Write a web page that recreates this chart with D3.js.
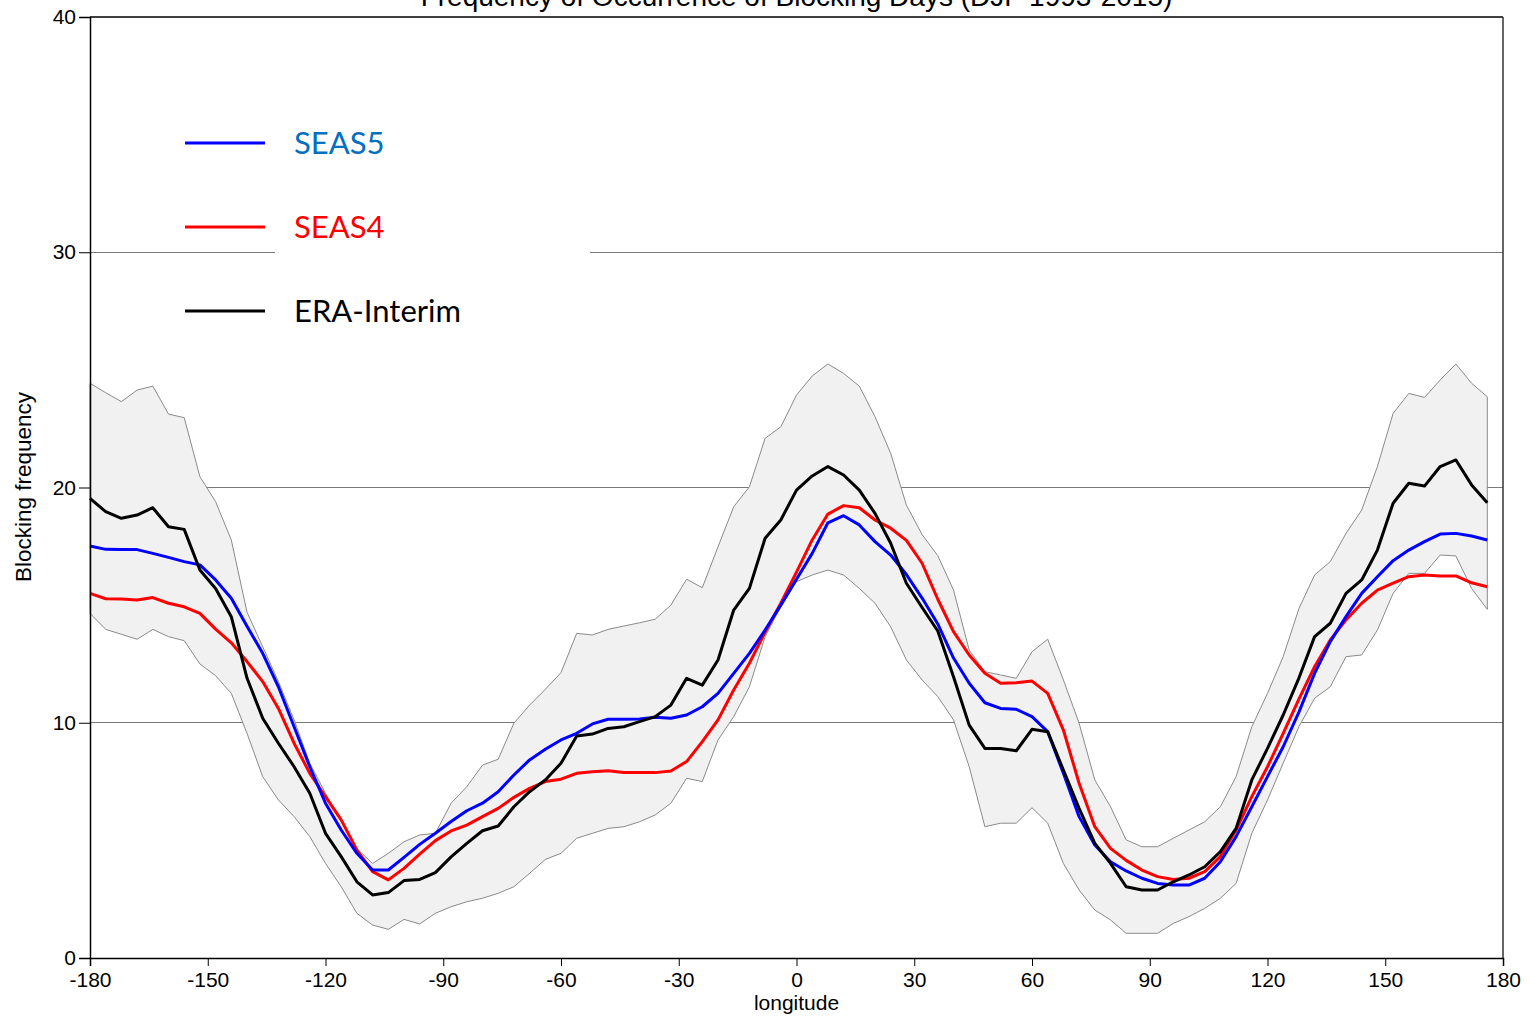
<!DOCTYPE html>
<html>
<head>
<meta charset="utf-8">
<script src="https://cdn.jsdelivr.net/npm/d3@7"></script>
<style>
  html, body { margin: 0; padding: 0; background: #ffffff; }
  svg { display: block; }
</style>
</head>
<body>
<svg id="chart" width="1529" height="1018"></svg>
<script>
// Longitudes of the blocking index, every 4 degrees from -180 to 176
const longitudes = d3.range(-180, 180, 4);

// ERA-Interim reanalysis
const eraInterim = [
  19.54, 18.97, 18.69, 18.83, 19.14, 18.33, 18.22, 16.49, 15.71, 14.51,
  11.90, 10.19, 9.13, 8.13, 7.00, 5.30, 4.31, 3.24, 2.68, 2.78,
  3.29, 3.34, 3.63, 4.30, 4.87, 5.41, 5.61, 6.43, 7.07, 7.57,
  8.28, 9.44, 9.52, 9.76, 9.83, 10.05, 10.26, 10.75, 11.89, 11.60,
  12.67, 14.79, 15.71, 17.84, 18.62, 19.89, 20.49, 20.89, 20.53, 19.89,
  18.90, 17.63, 15.93, 14.90, 13.90, 11.96, 9.90, 8.91, 8.91, 8.81,
  9.72, 9.62, 7.99, 6.36, 4.87, 4.02, 3.03, 2.89, 2.89, 3.24,
  3.53, 3.88, 4.52, 5.51, 7.57, 8.91, 10.33, 11.90, 13.66, 14.23,
  15.50, 16.07, 17.34, 19.33, 20.18, 20.06, 20.89, 21.17, 20.11, 19.35
];

// SEAS5 ensemble mean
const seas5 = [
  17.51, 17.37, 17.36, 17.36, 17.20, 17.03, 16.85, 16.71, 16.07, 15.29,
  14.10, 12.95, 11.53, 9.83, 8.13, 6.58, 5.44, 4.45, 3.74, 3.74,
  4.28, 4.83, 5.30, 5.80, 6.26, 6.58, 7.07, 7.78, 8.42, 8.87,
  9.27, 9.55, 9.95, 10.15, 10.15, 10.16, 10.23, 10.19, 10.33, 10.68,
  11.25, 12.10, 12.95, 13.94, 15.00, 16.10, 17.20, 18.50, 18.80, 18.41,
  17.70, 17.13, 16.30, 15.30, 14.20, 12.75, 11.68, 10.85, 10.61, 10.57,
  10.26, 9.62, 7.85, 6.01, 4.80, 4.09, 3.70, 3.39, 3.17, 3.10,
  3.10, 3.39, 4.09, 5.16, 6.43, 7.71, 8.98, 10.45, 12.10, 13.45,
  14.51, 15.50, 16.21, 16.89, 17.34, 17.70, 18.02, 18.05, 17.94, 17.77
];

// SEAS4 ensemble mean
const seas4 = [
  15.50, 15.27, 15.26, 15.22, 15.32, 15.08, 14.93, 14.65, 13.98, 13.40,
  12.60, 11.75, 10.61, 9.13, 7.85, 6.86, 5.87, 4.59, 3.67, 3.32,
  3.81, 4.42, 4.99, 5.40, 5.65, 6.01, 6.36, 6.83, 7.21, 7.50,
  7.60, 7.85, 7.92, 7.96, 7.89, 7.88, 7.88, 7.95, 8.35, 9.20,
  10.12, 11.39, 12.53, 13.85, 15.08, 16.40, 17.77, 18.87, 19.23, 19.14,
  18.62, 18.27, 17.75, 16.78, 15.25, 13.87, 12.88, 12.10, 11.68, 11.70,
  11.77, 11.25, 9.69, 7.43, 5.58, 4.66, 4.15, 3.74, 3.46, 3.34,
  3.39, 3.67, 4.31, 5.44, 6.86, 8.13, 9.55, 11.00, 12.38, 13.52,
  14.37, 15.08, 15.64, 15.93, 16.21, 16.28, 16.24, 16.24, 15.95, 15.78
];

// Upper and lower edges of the shaded spread
const spreadUpper = [
  24.43, 24.03, 23.65, 24.14, 24.31, 23.12, 22.97, 20.46, 19.40, 17.77,
  14.70, 13.23, 11.75, 10.12, 8.28, 7.00, 5.80, 4.65, 4.02, 4.45,
  4.94, 5.23, 5.30, 6.58, 7.28, 8.20, 8.45, 9.98, 10.75, 11.42,
  12.13, 13.80, 13.73, 13.97, 14.11, 14.25, 14.40, 15.00, 16.10, 15.74,
  17.48, 19.18, 20.03, 22.09, 22.58, 23.93, 24.74, 25.25, 24.85, 24.31,
  23.01, 21.45, 19.25, 18.00, 17.10, 15.64, 13.09, 12.17, 12.03, 11.89,
  13.02, 13.55, 11.82, 9.98, 7.57, 6.43, 5.02, 4.73, 4.73, 5.09,
  5.44, 5.79, 6.43, 7.71, 9.83, 11.25, 12.81, 14.85, 16.28, 16.85,
  18.05, 19.04, 20.89, 23.15, 24.00, 23.83, 24.57, 25.25, 24.43, 23.86
];
const spreadLower = [
  14.65, 13.97, 13.76, 13.55, 13.97, 13.66, 13.49, 12.50, 12.00, 11.25,
  9.55, 7.71, 6.72, 6.01, 5.16, 4.02, 3.03, 1.90, 1.40, 1.22,
  1.64, 1.45, 1.90, 2.18, 2.39, 2.54, 2.75, 3.03, 3.60, 4.19,
  4.45, 5.09, 5.30, 5.51, 5.58, 5.79, 6.08, 6.58, 7.64, 7.50,
  9.27, 10.26, 11.53, 13.66, 14.93, 16.00, 16.28, 16.49, 16.28, 15.71,
  15.08, 14.08, 12.67, 11.82, 11.11, 10.12, 8.13, 5.58, 5.73, 5.73,
  6.39, 5.73, 4.02, 2.89, 2.04, 1.62, 1.05, 1.05, 1.05, 1.47,
  1.76, 2.11, 2.54, 3.17, 5.30, 6.72, 8.28, 9.83, 11.04, 11.53,
  12.81, 12.88, 13.94, 15.50, 16.35, 16.35, 17.13, 17.09, 15.71, 14.82
];

const xTicks = [-180, -150, -120, -90, -60, -30, 0, 30, 60, 90, 120, 150, 180];
const yTicks = [0, 10, 20, 30, 40];

const seriesNames = ["SEAS5", "SEAS4", "ERA-Interim"];
const seriesLineColors = ["#0000ff", "#ff0000", "#000000"];
const seriesTextColors = ["#0070c0", "#ff0000", "#000000"];

const titleText = "Frequency of Occurrence of Blocking Days (DJF 1993-2015)";
const xTitle = "longitude";
const yTitle = "Blocking frequency";

// ---- layout ----
const plot = { left: 90, right: 1503, top: 17, bottom: 958 };
const svg = d3.select("#chart");
const axisFont = "'Liberation Sans', Arial, Helvetica, sans-serif";

const x = d3.scaleLinear().domain([-180, 180]).range([plot.left, plot.right]);
const y = d3.scaleLinear().domain([0, 40]).range([plot.bottom, plot.top]);

// horizontal reference lines
svg.append("g")
  .selectAll("line")
  .data(yTicks.filter(t => t > 0 && t < 40))
  .join("line")
  .attr("x1", plot.left).attr("x2", plot.right)
  .attr("y1", d => y(d)).attr("y2", d => y(d))
  .attr("stroke", "#7a7a7a").attr("stroke-width", 1)
  .attr("shape-rendering", "crispEdges");

// shaded spread
const rows = longitudes.map((lon, i) => ({
  lon, hi: spreadUpper[i], lo: spreadLower[i],
  era: eraInterim[i], s5: seas5[i], s4: seas4[i]
}));

const area = d3.area()
  .x(d => x(d.lon))
  .y0(d => y(d.lo))
  .y1(d => y(d.hi));

svg.append("path")
  .datum(rows)
  .attr("d", area)
  .attr("fill", "#f1f1f1")
  .attr("stroke", "#8a8a8a")
  .attr("stroke-width", 1);

// mean lines
const lineFor = key => d3.line().x(d => x(d.lon)).y(d => y(d[key]));
const lineKeys = ["s5", "s4", "era"];
// draw order: SEAS4, SEAS5, ERA-Interim on top
[1, 0, 2].forEach(i => {
  svg.append("path")
    .datum(rows)
    .attr("d", lineFor(lineKeys[i]))
    .attr("fill", "none")
    .attr("stroke", seriesLineColors[i])
    .attr("stroke-width", 3)
    .attr("stroke-linejoin", "round");
});

// legend panel (opaque, sits over the grid)
svg.append("rect")
  .attr("x", 275).attr("y", 100)
  .attr("width", 315).attr("height", 240)
  .attr("fill", "#ffffff");

const legend = svg.append("g");
seriesNames.forEach((name, i) => {
  const ly = 143 + i * 84;
  legend.append("line")
    .attr("x1", 185).attr("x2", 265)
    .attr("y1", ly).attr("y2", ly)
    .attr("stroke", seriesLineColors[i])
    .attr("stroke-width", 3);
  legend.append("text")
    .attr("x", 294).attr("y", ly + 11)
    .attr("font-family", "Lato, 'Open Sans', sans-serif")
    .attr("font-size", 31)
    .attr("fill", seriesTextColors[i])
    .text(name);
});

// axes
const xAxis = d3.axisBottom(x).tickValues(xTicks).tickSize(8).tickPadding(6)
  .tickFormat(d3.format("d"));
const gx = svg.append("g")
  .attr("transform", `translate(0,${plot.bottom})`)
  .call(xAxis);
gx.select(".domain").attr("stroke", "#000").attr("stroke-width", 1.5);
gx.selectAll(".tick line").attr("stroke", "#000").attr("stroke-width", 1);
gx.selectAll("text")
  .attr("font-family", axisFont).attr("font-size", 21)
  .attr("fill", "#000")
  .text(d => (d < 0 ? "-" + Math.abs(d) : String(d)));

const yAxis = d3.axisLeft(y).tickValues(yTicks).tickSize(11).tickPadding(3)
  .tickFormat(d3.format("d"));
const gy = svg.append("g")
  .attr("transform", `translate(${plot.left},0)`)
  .call(yAxis);
gy.select(".domain").attr("stroke", "#000").attr("stroke-width", 1.5);
gy.selectAll(".tick line").attr("stroke", "#000").attr("stroke-width", 1);
gy.selectAll("text")
  .attr("font-family", axisFont).attr("font-size", 21)
  .attr("fill", "#000");

// frame: top and right edges
svg.append("line")
  .attr("x1", plot.left).attr("x2", plot.right)
  .attr("y1", plot.top).attr("y2", plot.top)
  .attr("stroke", "#000").attr("stroke-width", 1.5);
svg.append("line")
  .attr("x1", plot.right).attr("x2", plot.right)
  .attr("y1", plot.top).attr("y2", plot.bottom)
  .attr("stroke", "#333").attr("stroke-width", 1.5);

// titles (the main title sits against the top edge of the page)
svg.append("text")
  .attr("x", (plot.left + plot.right) / 2).attr("y", 6)
  .attr("text-anchor", "middle")
  .attr("font-family", axisFont).attr("font-size", 28)
  .attr("fill", "#000")
  .text(titleText);

svg.append("text")
  .attr("x", (plot.left + plot.right) / 2).attr("y", 1010)
  .attr("text-anchor", "middle")
  .attr("font-family", axisFont).attr("font-size", 21)
  .attr("fill", "#000")
  .text(xTitle);

svg.append("text")
  .attr("transform", "translate(31,487) rotate(-90)")
  .attr("text-anchor", "middle")
  .attr("font-family", axisFont).attr("font-size", 22.5)
  .attr("fill", "#000")
  .text(yTitle);
</script>
</body>
</html>
